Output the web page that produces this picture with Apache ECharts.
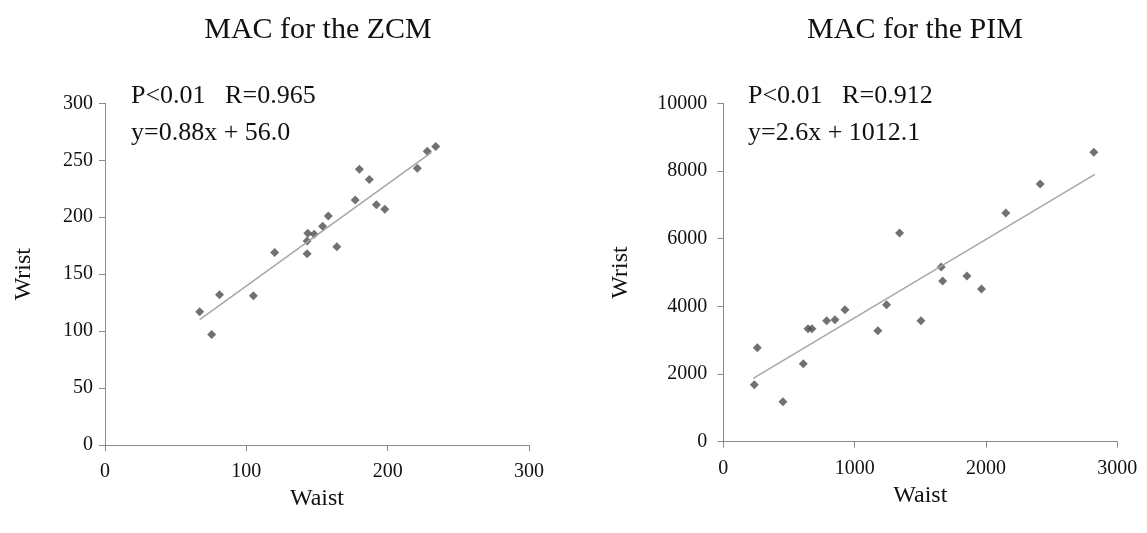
<!DOCTYPE html>
<html><head><meta charset="utf-8">
<script src="https://cdn.jsdelivr.net/npm/echarts@6/dist/echarts.min.js"></script>
<style>html,body{margin:0;padding:0;background:#fff}#c{width:1147px;height:533px}</style>
</head><body><div id="c"></div>
<script>
// Left panel: MAC for the ZCM
const zcmWaist = [67, 75.5, 81, 105, 120, 143, 143, 143.5, 148, 154, 158, 164, 177, 180, 187, 192, 198, 221, 228, 234];
const zcmWrist = [117, 97, 132, 131, 169, 168, 179, 186, 185, 192, 201, 174, 215, 242, 233, 211, 207, 243, 258, 262];
const zcmTrendX = [67, 231];
const zcmTrendY = [110, 257];
// Right panel: MAC for the PIM
const pimWaist = [236, 259, 454, 609, 645, 675, 787, 850, 926, 1177, 1243, 1342, 1505, 1659, 1670, 1855, 1966, 2151, 2413, 2821];
const pimWrist = [1684, 2778, 1182, 2305, 3339, 3339, 3576, 3605, 3901, 3280, 4048, 6167, 3576, 5162, 4749, 4897, 4512, 6758, 7615, 8552];
const pimTrendX = [228, 2829];
const pimTrendY = [1873, 7902];
const titles = ['MAC for the ZCM', 'MAC for the PIM'];
const statLines = [['P<0.01   R=0.965', 'y=0.88x + 56.0'], ['P<0.01   R=0.912', 'y=2.6x + 1012.1']];

const FONT = 'Liberation Serif';
const axisCommon = {
  axisLine: {lineStyle: {color: '#8a8a8a', width: 1}},
  axisTick: {show: true, length: 6, lineStyle: {color: '#8a8a8a'}},
  splitLine: {show: false},
  axisLabel: {color: '#111', fontFamily: FONT, fontSize: 20, formatter: v => String(v)},
  nameTextStyle: {color: '#111', fontFamily: FONT, fontSize: 24}
};
function xa(idx, max, interval, gap) {
  return Object.assign({}, axisCommon, {gridIndex: idx, type: 'value', min: 0, max: max, interval: interval,
    name: 'Waist', nameLocation: 'middle', nameGap: gap,
    axisLabel: Object.assign({}, axisCommon.axisLabel, {margin: 17})});
}
function ya(idx, max, interval, gap, margin) {
  return Object.assign({}, axisCommon, {gridIndex: idx, type: 'value', min: 0, max: max, interval: interval,
    name: 'Wrist', nameLocation: 'middle', nameGap: gap,
    axisLabel: Object.assign({}, axisCommon.axisLabel, {margin: margin})});
}
const pair = (xs, ys) => xs.map((x, i) => [x, ys[i]]);
const scatterStyle = {symbol: 'diamond', symbolSize: 9, itemStyle: {color: '#4d4d4d'}};
const lineStyle = {type: 'line', symbol: 'none', lineStyle: {color: '#a6a6a6', width: 1.5}, silent: true};
const tStyle = (size) => ({fontFamily: FONT, fontSize: size, fontWeight: 'normal', color: '#111'});

const chart = echarts.init(document.getElementById('c'), null, {renderer: 'canvas'});
chart.setOption({
  animation: false,
  backgroundColor: '#fff',
  title: [
    {text: titles[0], left: 313, top: 10, textAlign: 'center', textStyle: tStyle(30)},
    {text: titles[1], left: 910, top: 10, textAlign: 'center', textStyle: tStyle(30)},
    {text: statLines[0][0], left: 126, top: 78, textStyle: tStyle(26)},
    {text: statLines[0][1], left: 126, top: 115, textStyle: tStyle(26)},
    {text: statLines[1][0], left: 743, top: 78, textStyle: tStyle(26)},
    {text: statLines[1][1], left: 743, top: 115, textStyle: tStyle(26)}
  ],
  grid: [
    {left: 105, top: 103.3, width: 424, height: 341.7},
    {left: 723.3, top: 103.3, width: 394, height: 338.4}
  ],
  xAxis: [xa(0, 300, 100, 42), xa(1, 3000, 1000, 41)],
  yAxis: [ya(0, 300, 50, 69, 12), ya(1, 10000, 2000, 91, 16)],
  series: [
    Object.assign({type: 'scatter', xAxisIndex: 0, yAxisIndex: 0, data: pair(zcmWaist, zcmWrist)}, scatterStyle),
    Object.assign({xAxisIndex: 0, yAxisIndex: 0, data: pair(zcmTrendX, zcmTrendY)}, lineStyle),
    Object.assign({type: 'scatter', xAxisIndex: 1, yAxisIndex: 1, data: pair(pimWaist, pimWrist)}, scatterStyle),
    Object.assign({xAxisIndex: 1, yAxisIndex: 1, data: pair(pimTrendX, pimTrendY)}, lineStyle)
  ]
});
</script></body></html>
